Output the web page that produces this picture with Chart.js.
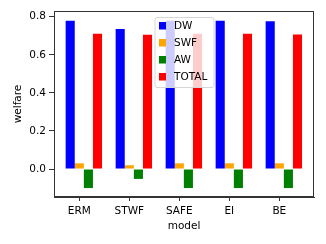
<!DOCTYPE html>
<html>
<head>
<meta charset="utf-8">
<script src="https://cdn.jsdelivr.net/npm/chart.js@4"></script>
<style>
  html, body { margin: 0; padding: 0; background: #fff; }
  #wrap { width: 326px; height: 244px; }
</style>
</head>
<body>
<div id="wrap"><canvas id="c"></canvas></div>
<script>
// data
const models = ['ERM', 'STWF', 'SAFE', 'EI', 'BE'];
const dw = [0.779, 0.735, 0.779, 0.779, 0.776];
const swf = [0.03, 0.02, 0.03, 0.03, 0.03];
const aw = [-0.1, -0.052, -0.1, -0.1, -0.1];
const total = [0.71, 0.705, 0.71, 0.71, 0.706];
const yTicks = [0.0, 0.2, 0.4, 0.6, 0.8];

const FONT = 'DejaVu Sans';
Chart.defaults.font.family = FONT;
Chart.defaults.font.size = 10.5;
Chart.defaults.color = '#000';

function pts(arr) {
    return arr.map((v, i) => ({x: i, y: v}));
}

// frame round the plot area, like matplotlib spines
const framePlugin = {
    id: 'frame',
    afterDatasetsDraw(chart) {
        const a = chart.chartArea, ctx = chart.ctx;
        ctx.save();
        ctx.strokeStyle = '#333';
        ctx.lineWidth = 1;
        ctx.strokeRect(Math.round(a.left) + 0.5, Math.round(a.top) + 0.5,
            Math.round(a.right - a.left) - 1, Math.round(a.bottom - a.top) - 1);
        ctx.restore();
    }
};

// legend box drawn over the bars
const legendPlugin = {
    id: 'boxLegend',
    afterDraw(chart) {
        const a = chart.chartArea, ctx = chart.ctx;
        const sets = chart.data.datasets.filter(d => d.label);
        const w = 59, h = 70;
        const x = (a.left + a.right) / 2 - w / 2 + 0.5;
        const y = a.top + 6.5;
        ctx.save();
        ctx.beginPath();
        ctx.roundRect(x, y, w, h, 2);
        ctx.fillStyle = 'rgba(255,255,255,0.8)';
        ctx.fill();
        ctx.strokeStyle = '#d6d6d6';
        ctx.lineWidth = 1;
        ctx.stroke();
        ctx.font = '10.5px ' + FONT;
        ctx.textBaseline = 'middle';
        sets.forEach((d, i) => {
            const cy = y + 8.5 + i * 17;
            ctx.fillStyle = d.backgroundColor;
            ctx.fillRect(x + 4, cy - 4, 7, 7.5);
            ctx.fillStyle = '#000';
            ctx.fillText(d.label, x + 19, cy + 0.5);
        });
        ctx.restore();
    }
};

const ctx = document.getElementById('c');
new Chart(ctx, {
    type: 'bar',
    data: {
        datasets: [
            // empty slot so the four bars sit to the right of each tick
            {label: '', data: pts(models.map(() => null)), backgroundColor: 'rgba(0,0,0,0)'},
            {label: 'DW', data: pts(dw), backgroundColor: '#0000ff'},
            {label: 'SWF', data: pts(swf), backgroundColor: '#ffa500'},
            {label: 'AW', data: pts(aw), backgroundColor: '#008000'},
            {label: 'TOTAL', data: pts(total), backgroundColor: '#ff0000'}
        ]
    },
    options: {
        responsive: true,
        maintainAspectRatio: false,
        animation: false,
        datasets: {
            bar: {categoryPercentage: 0.91, barPercentage: 1.0, borderWidth: 0}
        },
        layout: {padding: {left: 0, right: 12, top: 11, bottom: 0}},
        scales: {
            x: {
                type: 'linear',
                offset: false,
                min: -0.506,
                max: 4.694,
                afterBuildTicks: s => { s.ticks = models.map((m, i) => ({value: i})); },
                afterFit: s => { s.height = 47; },
                ticks: {
                    callback: v => models[v],
                    padding: 3.5,
                    maxRotation: 0,
                    autoSkip: false
                },
                grid: {drawOnChartArea: false, offset: false, tickLength: 4, color: '#333'},
                border: {color: '#333'},
                title: {display: true, text: 'model', padding: {top: 0, bottom: 11}}
            },
            y: {
                min: -0.147,
                max: 0.83,
                afterBuildTicks: s => { s.ticks = yTicks.map(v => ({value: v})); },
                afterFit: s => { s.width = 54; },
                ticks: {
                    callback: v => v.toFixed(1),
                    padding: 3
                },
                grid: {drawOnChartArea: false, tickLength: 5, color: '#333'},
                border: {color: '#333'},
                title: {display: true, text: 'welfare', padding: {top: 12, bottom: 0}}
            }
        },
        plugins: {
            legend: {display: false},
            tooltip: {enabled: false}
        }
    },
    plugins: [framePlugin, legendPlugin]
});
</script>
</body>
</html>
